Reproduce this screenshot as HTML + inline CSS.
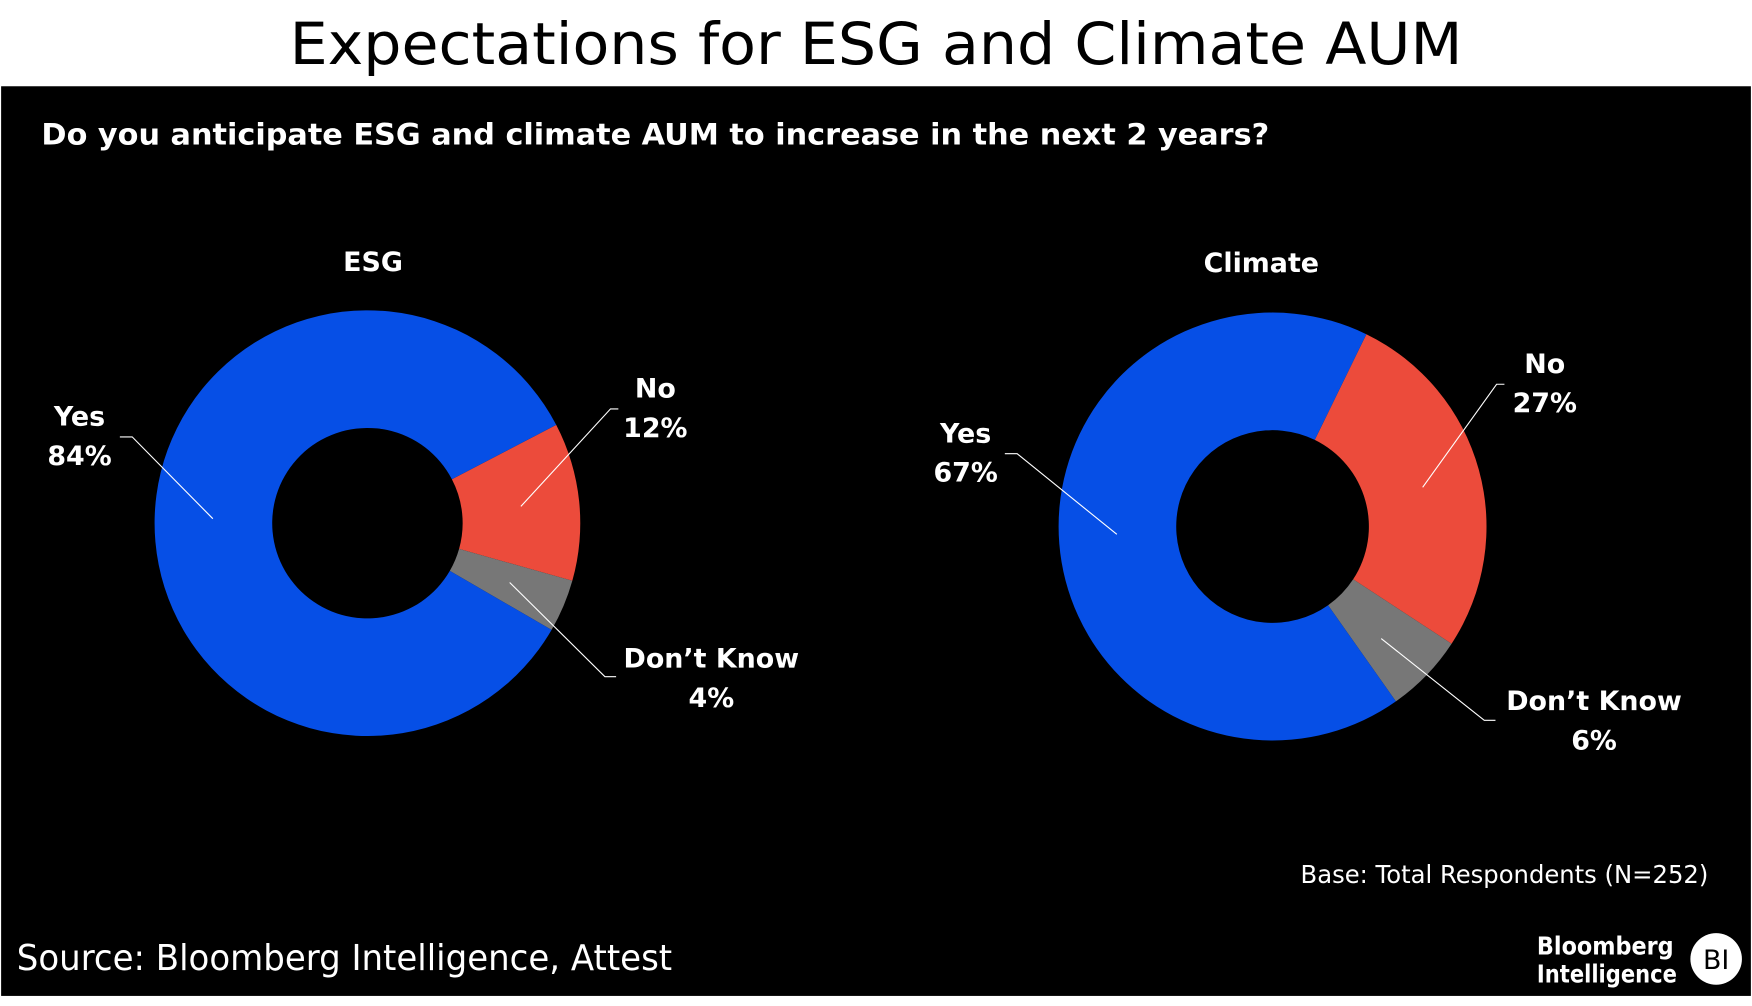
<!DOCTYPE html>
<html><head><meta charset="utf-8"><style>
html,body{margin:0;padding:0;background:#fff;width:1752px;height:1006px;overflow:hidden}
svg{display:block}
text{font-family:"DejaVu Sans","Liberation Sans",sans-serif}
.b{font-weight:bold;fill:#fff}
</style></head><body>
<svg id="chart" width="1752" height="1006" viewBox="0 0 1564 898" preserveAspectRatio="none" xmlns="http://www.w3.org/2000/svg">
<rect width="1564" height="898" fill="#fff"/>
<text x="782" y="57" text-anchor="middle" font-size="52" fill="#000" textLength="1047" lengthAdjust="spacingAndGlyphs">Expectations for ESG and Climate AUM</text>
<rect x="1" y="77" width="1562" height="812" fill="#000"/>
<text class="b" x="37" y="129" font-size="26" textLength="1096" lengthAdjust="spacingAndGlyphs">Do you anticipate ESG and climate AUM to increase in the next 2 years?</text>
<g id="donuts"></g>
<text x="1525" y="788" text-anchor="end" font-size="22" fill="#fff" textLength="364" lengthAdjust="spacingAndGlyphs">Base: Total Respondents (N=252)</text>
<text x="15" y="866" font-size="32" fill="#fff" textLength="585" lengthAdjust="spacingAndGlyphs">Source: Bloomberg Intelligence, Attest</text>
<text x="1372" y="852" font-size="22" font-weight="bold" fill="#fff" font-family="Liberation Sans" textLength="122" lengthAdjust="spacingAndGlyphs">Bloomberg</text>
<text x="1372" y="877" font-size="22" font-weight="bold" fill="#fff" font-family="Liberation Sans" textLength="125" lengthAdjust="spacingAndGlyphs">Intelligence</text>
<circle cx="1532" cy="856" r="23" fill="#fff"/>
<text x="1532" y="865" text-anchor="middle" font-size="24" fill="#000" font-family="Liberation Serif">BI</text>
</svg>
<script>
const categories = ["No","Don\u2019t Know","Yes"];
const esgValues = [12,4,84];
const climateValues = [27,6,67];
const chartTitles = ["ESG","Climate"];
const percentLabels = [["12%","4%","84%"],["27%","6%","67%"]];
const colors = ["#ec4b3b","#777777","#064fe6"];
const NS="http://www.w3.org/2000/svg";
const g=document.getElementById('donuts');
function mk(tag,attrs){const e=document.createElementNS(NS,tag);for(const k in attrs)e.setAttribute(k,attrs[k]);return e;}
const layouts=[
 {cx:328,cy:467,R:190,r:85,start:-27.5,tx:333,ty:242,
  lab:[[585,347,[[552,365],[545,365],[465,452]]],[635,588,[[455,520],[540,604],[550,604]]],[71,372,[[107,390],[118,390],[190,463]]]]},
 {cx:1136,cy:470,R:191,r:86,start:-64,tx:1126,ty:243,
  lab:[[1379,325,[[1343,343],[1336,343],[1270,435]]],[1423,626,[[1233,570],[1325,643],[1335,643]]],[862,387,[[897,405],[908,405],[997,477]]]]}
];
[esgValues,climateValues].forEach((vals,ci)=>{
 const L=layouts[ci];
 const t=mk('text',{x:L.tx,y:L.ty,'text-anchor':'middle','font-size':24,class:'b'});
 
 
 t.textContent=chartTitles[ci];g.appendChild(t);
 const total=vals.reduce((a,b)=>a+b,0);
 let a=L.start*Math.PI/180;
 vals.forEach((v,i)=>{
  const a2=a+v/total*2*Math.PI, big=(a2-a)>Math.PI?1:0;
  const p=(rad,ang)=>[L.cx+rad*Math.cos(ang),L.cy+rad*Math.sin(ang)];
  const [x1,y1]=p(L.R,a),[x2,y2]=p(L.R,a2),[x3,y3]=p(L.r,a2),[x4,y4]=p(L.r,a);
  const path=mk('path',{d:`M${x1},${y1}A${L.R},${L.R} 0 ${big} 1 ${x2},${y2}L${x3},${y3}A${L.r},${L.r} 0 ${big} 0 ${x4},${y4}Z`,fill:colors[i]});
  
  
  g.appendChild(path);
  a=a2;
 });
 vals.forEach((v,i)=>{
  const [lx,ly,pts]=L.lab[i];
  const pl=mk('polyline',{points:pts.map(q=>q.join(',')).join(' '),fill:'none',stroke:'#fff','stroke-width':1});
  
  
  g.appendChild(pl);
  const t1=mk('text',{x:lx,y:ly+8,'text-anchor':'middle','font-size':24,class:'b'});
  
  
  t1.textContent=categories[i];g.appendChild(t1);
  const t2=mk('text',{x:lx,y:ly+43,'text-anchor':'middle','font-size':24,class:'b'});
  
  
  t2.textContent=percentLabels[ci][i];g.appendChild(t2);
 });
});
</script>
</body></html>
